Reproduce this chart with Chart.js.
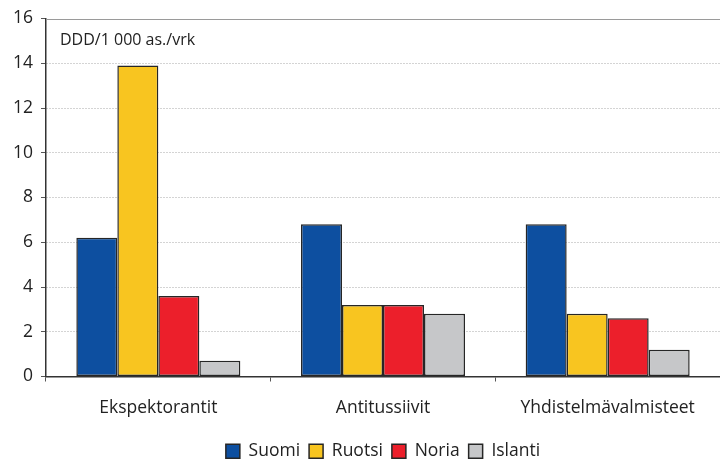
<!DOCTYPE html>
<html>
<head>
<meta charset="utf-8">
<script src="https://cdn.jsdelivr.net/npm/chart.js@4/dist/chart.umd.min.js"></script>
<style>
  html, body { margin: 0; padding: 0; background: #fff; }
  #wrap { width: 720px; height: 459px; position: relative; }
</style>
</head>
<body>
<div id="wrap"><canvas id="c"></canvas></div>
<script>
// Yskänlääkkeiden käyttö, DDD/1 000 as./vrk
const categories = ['Ekspektorantit', 'Antitussiivit', 'Yhdistelmävalmisteet'];
const suomi   = [6.2, 6.8, 6.8];
const ruotsi  = [13.9, 3.2, 2.8];
const noria   = [3.6, 3.2, 2.6];
const islanti = [0.7, 2.8, 1.2];
const yTicks  = [0, 2, 4, 6, 8, 10, 12, 14, 16];
const unitLabel = 'DDD/1 000 as./vrk';

const FONT = "'Open Sans', sans-serif";
const EDGE = '#262626';

function ds(label, data, color) {
  return {
    label, data,
    backgroundColor: color,
    borderColor: EDGE,
    borderWidth: 1.5,
    borderSkipped: false,
    categoryPercentage: 0.73,
    barPercentage: 1.0
  };
}

// Yksikköteksti ja kiinteä yläreunan viiva
const extras = {
  id: 'extras',
  afterDraw(chart) {
    const { ctx, chartArea, scales } = chart;
    const yTop = scales.y.getPixelForValue(yTicks[yTicks.length - 1]);
    ctx.save();
    ctx.strokeStyle = '#9a9a9a';
    ctx.lineWidth = 1;
    ctx.beginPath();
    ctx.moveTo(chartArea.left, Math.round(yTop) + 0.5);
    ctx.lineTo(chartArea.right, Math.round(yTop) + 0.5);
    ctx.stroke();
    ctx.fillStyle = '#222';
    ctx.font = "16px " + FONT;
    ctx.textBaseline = 'middle';
    ctx.fillText(unitLabel, chartArea.left + 14, chartArea.top + 22);
    ctx.restore();
  }
};

new Chart(document.getElementById('c'), {
  type: 'bar',
  data: {
    labels: categories,
    datasets: [
      ds('Suomi', suomi, '#0d4fa0'),
      ds('Ruotsi', ruotsi, '#f8c520'),
      ds('Noria', noria, '#ec1f2b'),
      ds('Islanti', islanti, '#c6c7c9')
    ]
  },
  options: {
    responsive: true,
    maintainAspectRatio: false,
    animation: false,
    layout: { padding: { top: 17, right: 0, bottom: -11, left: 0 } },
    plugins: {
      tooltip: { enabled: false },
      legend: {
        position: 'bottom',
        fullSize: false,
        labels: {
          boxWidth: 14,
          boxHeight: 14,
          padding: 9,
          color: '#222',
          font: { family: FONT, size: 17.5, lineHeight: 1 }
        }
      }
    },
    scales: {
      x: {
        afterFit(scale) { scale.height = 57; },
        grid: {
          offset: true,
          drawOnChartArea: false,
          drawTicks: true,
          tickLength: 5,
          tickColor: '#555',
          tickWidth: 1
        },
        border: { color: '#333', width: 1.5 },
        ticks: {
          color: '#222',
          padding: 16,
          font: { family: FONT, size: 17.5 }
        }
      },
      y: {
        min: 0,
        max: 16,
        afterFit(scale) { scale.width = 46; },
        afterBuildTicks(scale) { scale.ticks = yTicks.map(v => ({ value: v })); },
        grid: {
          color: ctx => ctx.tick && ctx.tick.value === 16 ? 'rgba(0,0,0,0)' : '#a8a8a8',
          lineWidth: 1,
          drawTicks: true,
          tickLength: 5,
          tickColor: '#555',
          tickBorderDash: []
        },
        border: { color: '#333', width: 1.5, dash: [1, 2] },
        ticks: {
          color: '#222',
          padding: 8,
          font: { family: FONT, size: 17.5 }
        }
      }
    }
  },
  plugins: [extras]
});
</script>
</body>
</html>
